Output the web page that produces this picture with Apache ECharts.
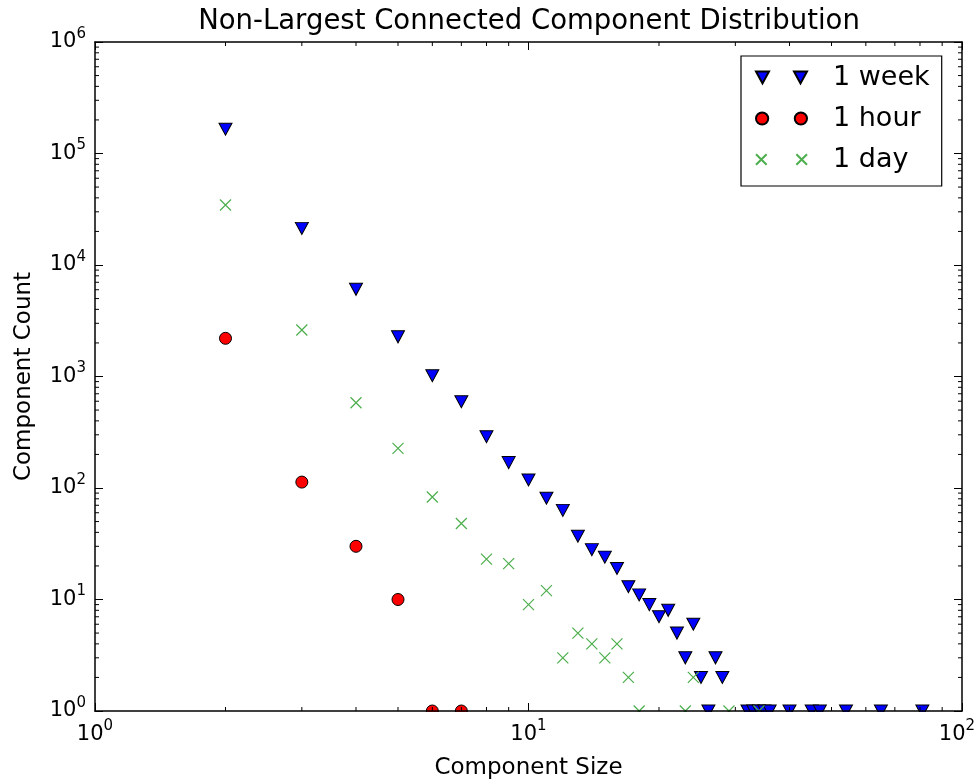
<!DOCTYPE html>
<html><head><meta charset="utf-8">
<script src="https://cdn.jsdelivr.net/npm/echarts@6/dist/echarts.min.js"></script>
<style>html,body{margin:0;padding:0;background:#fff}#c{width:978px;height:782px}</style>
</head><body><div id="c"></div>
<script>
// ---- data ----
const weekSizes  = [2, 3, 4, 5, 6, 7, 8, 9, 10, 11, 12, 13, 14, 15, 16, 17, 18, 19, 20, 21, 22, 23, 24, 25, 26, 27, 28, 32, 33, 34, 35, 36, 40, 45, 47, 54, 65, 81];
const weekCounts = [165000, 21300, 6050, 2270, 1015, 594, 288, 169, 118, 81, 63, 37, 28, 24, 19, 13, 11, 9, 7, 8, 5, 3, 6, 2, 1, 3, 2, 1, 1, 1, 1, 1, 1, 1, 1, 1, 1, 1];
const hourSizes  = [2, 3, 4, 5, 6, 7];
const hourCounts = [2200, 113, 30, 10, 1, 1];
const daySizes   = [2, 3, 4, 5, 6, 7, 8, 9, 10, 11, 12, 13, 14, 15, 16, 17, 18, 23, 24, 29, 34];
const dayCounts  = [34500, 2610, 582, 227, 83, 48, 23, 21, 9, 12, 3, 5, 4, 3, 4, 2, 1, 1, 2, 1, 1];
const seriesNames = ['1 week', '1 hour', '1 day'];
const xLimits = [1, 100];
const yLimits = [1, 1000000];
// minor tick positions of the log axes
const xMinorTicks = [2, 3, 4, 5, 6, 7, 8, 9, 20, 30, 40, 50, 60, 70, 80, 90];
const yMinorTicks = [2, 3, 4, 5, 6, 7, 8, 9,
                     20, 30, 40, 50, 60, 70, 80, 90,
                     200, 300, 400, 500, 600, 700, 800, 900,
                     2000, 3000, 4000, 5000, 6000, 7000, 8000, 9000,
                     20000, 30000, 40000, 50000, 60000, 70000, 80000, 90000,
                     200000, 300000, 400000, 500000, 600000, 700000, 800000, 900000];

const pairs = (xs, ys) => xs.map((x, i) => [x, ys[i]]);
const FONT = 'DejaVu Sans';
const pow10Label = v => '{b|10}{' + (v === xLimits[1] ? 'se' : 's') + '|' + Math.round(Math.log10(v)) + '}';
const labelRich = {
  b: {fontFamily: FONT, fontSize: 21, color: '#000'},
  s: {fontFamily: FONT, fontSize: 15, color: '#000', padding: [0, 0, 16, 0]},
  se: {fontFamily: FONT, fontSize: 15, color: '#000', padding: [0, 10, 16, 0]}
};
const lineBlack = {color: '#000', width: 1.5};
const MINOR_LEN = 4;

function makeAxis(kind, pos, showLabel, limits) {
  return {
    type: 'log', logBase: 10, min: limits[0], max: limits[1],
    position: pos, z: 10,
    axisLine: {show: true, onZero: false, lineStyle: lineBlack},
    axisTick: {show: true, inside: true, length: 8, lineStyle: {color: '#000', width: 1}},
    minorTick: {show: false},
    splitLine: {show: false},
    minorSplitLine: {show: false},
    axisLabel: {show: showLabel,
      formatter: kind === 'x' ? pow10Label : (v => '{b|10}{s|' + Math.round(Math.log10(v)) + '}'),
      rich: labelRich, margin: kind === 'x' ? 8 : 9},
    name: showLabel ? (kind === 'x' ? 'Component Size' : 'Component Count') : '',
    nameLocation: 'middle',
    nameGap: kind === 'x' ? 46 : 59,
    nameTextStyle: {fontFamily: FONT, fontSize: 23, color: '#000'}
  };
}

function minorTickSeries(values, isX) {
  return {
    type: 'custom', silent: true, clip: false, z: 9,
    data: values.map(v => [v]),
    encode: isX ? {x: 0} : {y: 0},
    renderItem: (params, api) => {
      const v = api.value(0);
      let a, b;
      if (isX) {
        a = api.coord([v, yLimits[0]]);
        b = api.coord([v, yLimits[1]]);
        return {type: 'group', children: [
          {type: 'line', shape: {x1: a[0], y1: a[1], x2: a[0], y2: a[1] - MINOR_LEN}, style: {stroke: '#000', lineWidth: 1}},
          {type: 'line', shape: {x1: b[0], y1: b[1], x2: b[0], y2: b[1] + MINOR_LEN}, style: {stroke: '#000', lineWidth: 1}}
        ]};
      }
      a = api.coord([xLimits[0], v]);
      b = api.coord([xLimits[1], v]);
      return {type: 'group', children: [
        {type: 'line', shape: {x1: a[0], y1: a[1], x2: a[0] + MINOR_LEN, y2: a[1]}, style: {stroke: '#000', lineWidth: 1}},
        {type: 'line', shape: {x1: b[0], y1: b[1], x2: b[0] - MINOR_LEN, y2: b[1]}, style: {stroke: '#000', lineWidth: 1}}
      ]};
    }
  };
}

const chart = echarts.init(document.getElementById('c'), null, {renderer: 'canvas'});
chart.setOption({
  backgroundColor: '#fff',
  animation: false,
  title: {
    text: 'Non-Largest Connected Component Distribution',
    left: 524, top: 3, textAlign: 'center',
    textStyle: {fontFamily: FONT, fontSize: 27.5, fontWeight: 'normal', color: '#000'}
  },
  grid: {left: 95, right: 16, top: 42, bottom: 71, containLabel: false, outerBoundsMode: 'none'},
  xAxis: [makeAxis('x', 'bottom', true, xLimits), makeAxis('x', 'top', false, xLimits)],
  yAxis: [makeAxis('y', 'left', true, yLimits), makeAxis('y', 'right', false, yLimits)],
  legend: {
    orient: 'vertical', left: 741, top: 56,
    padding: [8, 12, 13, 14], itemGap: 14,
    itemWidth: 51, itemHeight: 13,
    backgroundColor: '#fff', borderColor: '#000', borderWidth: 1.2, borderRadius: 0,
    textStyle: {fontFamily: FONT, fontSize: 27, color: '#000', padding: [0, 0, 0, 21]},
    data: [
      {name: seriesNames[0], icon: 'path://M0,0L13,0L6.5,12ZM38,0L51,0L44.5,12Z'},
      {name: seriesNames[1], icon: 'path://M0,6A6,6 0 1,1 12,6A6,6 0 1,1 0,6ZM38,6A6,6 0 1,1 50,6A6,6 0 1,1 38,6Z'},
      {name: seriesNames[2], icon: 'path://M1,1L11,11M11,1L1,11M39,1L49,11M49,1L39,11'}
    ]
  },
  graphic: [{
    type: 'rect', z: 5, silent: true,
    shape: {x: 0, y: 712, width: 978, height: 70},
    style: {fill: '#fff'}
  }],
  series: [
    {
      name: seriesNames[0], type: 'scatter', clip: false,
      data: pairs(weekSizes, weekCounts),
      symbol: 'path://M0,0L2,0L1,1.85Z', symbolSize: [13, 12],
      itemStyle: {color: '#0000ff', borderColor: '#000', borderWidth: 1, opacity: 1}
    },
    {
      name: seriesNames[1], type: 'scatter', clip: false,
      data: pairs(hourSizes, hourCounts),
      symbol: 'circle', symbolSize: 12,
      itemStyle: {color: '#ff0000', borderColor: '#000', borderWidth: 1, opacity: 1}
    },
    {
      name: seriesNames[2], type: 'scatter', clip: false,
      data: pairs(daySizes, dayCounts),
      symbol: 'path://M0,0L10,10M10,0L0,10', symbolSize: 11,
      itemStyle: {color: 'rgba(0,0,0,0)', borderColor: '#4cae4c', borderWidth: 1.2, opacity: 1}
    },
    minorTickSeries(xMinorTicks, true),
    minorTickSeries(yMinorTicks, false)
  ]
});
</script></body></html>
